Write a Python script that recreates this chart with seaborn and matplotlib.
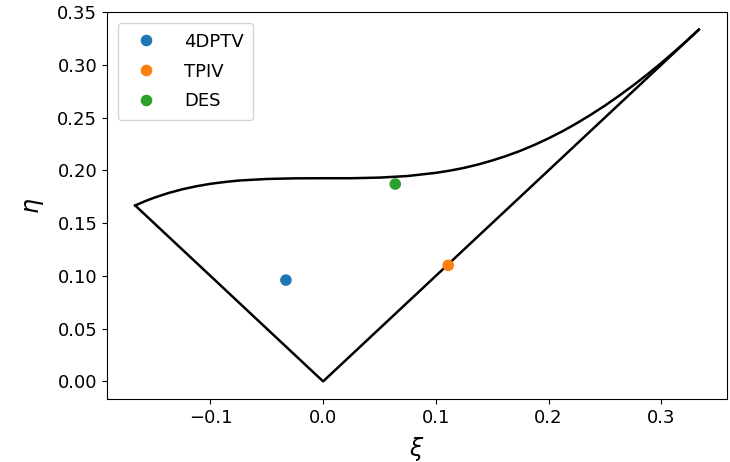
import matplotlib
matplotlib.use("Agg")
import matplotlib.pyplot as plt
import seaborn as sns
import pandas as pd

# Measured points
labels = ["4DPTV", "TPIV", "DES"]
xi_pts = [-0.033, 0.111, 0.064]
eta_pts = [0.096, 0.110, 0.187]

# Straight boundary (axisymmetric limits)
edge_xi = [0.3333, 0.0, -0.1667]
edge_eta = [0.3333, 0.0, 0.1667]

# Upper (two-component) boundary
curve_xi = [-0.1667, -0.1583, -0.15, -0.1375, -0.125, -0.1125, -0.1, -0.0875, -0.075, -0.05,
            -0.025, 0.0, 0.025, 0.05, 0.075, 0.1, 0.1125, 0.125, 0.1375, 0.15, 0.1625,
            0.175, 0.1875, 0.2, 0.2125, 0.225, 0.2375, 0.25, 0.2625, 0.275, 0.2875,
            0.3, 0.3125, 0.3229, 0.3333]
curve_eta = [0.1667, 0.1706, 0.1740, 0.1784, 0.1820, 0.1849, 0.1872, 0.1889, 0.1903, 0.1918,
             0.1924, 0.1925, 0.1925, 0.1931, 0.1946, 0.1976, 0.1997, 0.2023, 0.2055, 0.2093, 0.2136,
             0.2185, 0.2241, 0.2303, 0.2371, 0.2446, 0.2527, 0.2613, 0.2706, 0.2804, 0.2908,
             0.3017, 0.3132, 0.3231, 0.3333]

plt.rcParams["font.family"] = ["DejaVu Sans"]
plt.rcParams["font.size"] = 13

fig = plt.figure(figsize=(7.3, 4.62), dpi=100)
ax = fig.add_axes([0.1466, 0.1364, 0.8493, 0.8376])

edge_df = pd.DataFrame({"xi": edge_xi, "eta": edge_eta})
curve_df = pd.DataFrame({"xi": curve_xi, "eta": curve_eta})
sns.lineplot(data=edge_df, x="xi", y="eta", sort=False, color="black", lw=1.8, ax=ax)
sns.lineplot(data=curve_df, x="xi", y="eta", sort=False, color="black", lw=1.8, ax=ax)

pts_df = pd.DataFrame({"xi": xi_pts, "eta": eta_pts, "label": labels})
sns.scatterplot(data=pts_df, x="xi", y="eta", hue="label", palette=["#1f77b4", "#ff7f0e", "#2ca02c"],
                s=70, linewidth=0, ax=ax, zorder=3)

ax.set_xlim(-0.1917, 0.3583)
ax.set_ylim(-0.01667, 0.35)
ax.set_xticks([-0.1, 0.0, 0.1, 0.2, 0.3])
ax.set_yticks([0.0, 0.05, 0.1, 0.15, 0.2, 0.25, 0.3, 0.35])
ax.set_yticklabels(["0.00", "0.05", "0.10", "0.15", "0.20", "0.25", "0.30", "0.35"])
ax.set_xticklabels(["\u22120.1", "0.0", "0.1", "0.2", "0.3"])
ax.set_xlabel("$\\xi$", fontsize=17, labelpad=6)
ax.set_ylabel("$\\eta$", fontsize=17, labelpad=8)
ax.tick_params(labelsize=13)

leg = ax.legend(loc="upper left", fontsize=13, title=None, markerscale=1.0,
                handletextpad=1.1, borderpad=0.55, labelspacing=0.65, borderaxespad=0.6)

fig.savefig("out.png", dpi=100)
